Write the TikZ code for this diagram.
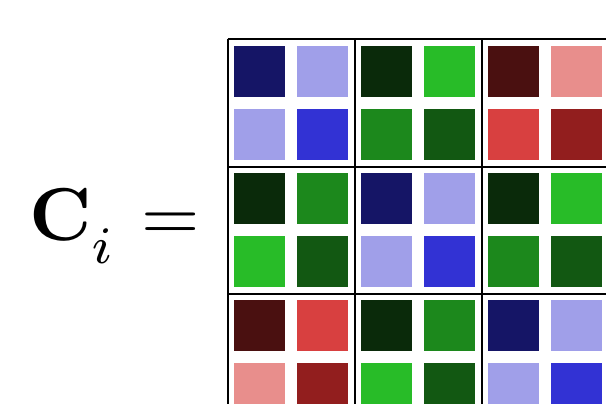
\documentclass[tikz,border=0pt]{standalone}
\definecolor{bA}{HTML}{151566}
\definecolor{bB}{HTML}{A09FE9}
\definecolor{bC}{HTML}{3232D4}
\definecolor{gA}{HTML}{0A2A0A}
\definecolor{gB}{HTML}{28BC28}
\definecolor{gC}{HTML}{1C881C}
\definecolor{gD}{HTML}{125812}
\definecolor{rA}{HTML}{4A1010}
\definecolor{rB}{HTML}{D84040}
\definecolor{rC}{HTML}{E88E8C}
\definecolor{rD}{HTML}{921E1E}
\newcommand\myblk[6]{%
  \fill[#3] ({234+127*#1},{46+127*#2}) rectangle ++(51,51);
  \fill[#4] ({297+127*#1},{46+127*#2}) rectangle ++(51,51);
  \fill[#5] ({234+127*#1},{109+127*#2}) rectangle ++(51,51);
  \fill[#6] ({297+127*#1},{109+127*#2}) rectangle ++(51,51);
}
\tikzset{gridline/.style={draw=black, line width=2pt}}
\begin{document}
\begin{tikzpicture}[x=1pt,y=-1pt]
\useasboundingbox (0,0) rectangle (606,404);
\clip (0,0) rectangle (606,404);
\node[anchor=base west, inner sep=0pt, scale=7.5] (lhs) at (28,240.5) {$\mathbf{C}_{\lower1.6pt\hbox{$\scriptstyle i$}}\mkern1mu =$};
\myblk{0}{0}{bA}{bB}{bB}{bC}
\myblk{1}{0}{gA}{gB}{gC}{gD}
\myblk{2}{0}{rA}{rC}{rB}{rD}
\myblk{0}{1}{gA}{gC}{gB}{gD}
\myblk{1}{1}{bA}{bB}{bB}{bC}
\myblk{2}{1}{gA}{gB}{gC}{gD}
\myblk{0}{2}{rA}{rB}{rC}{rD}
\myblk{1}{2}{gA}{gC}{gB}{gD}
\myblk{2}{2}{bA}{bB}{bB}{bC}
\foreach \k in {0,1,2,3} {
  \draw[gridline] ({227.5+127*\k},39.5) -- ({227.5+127*\k},420);
  \draw[gridline] (227.5,{39.5+127*\k}) -- (620,{39.5+127*\k});
}
\end{tikzpicture}
\end{document}
